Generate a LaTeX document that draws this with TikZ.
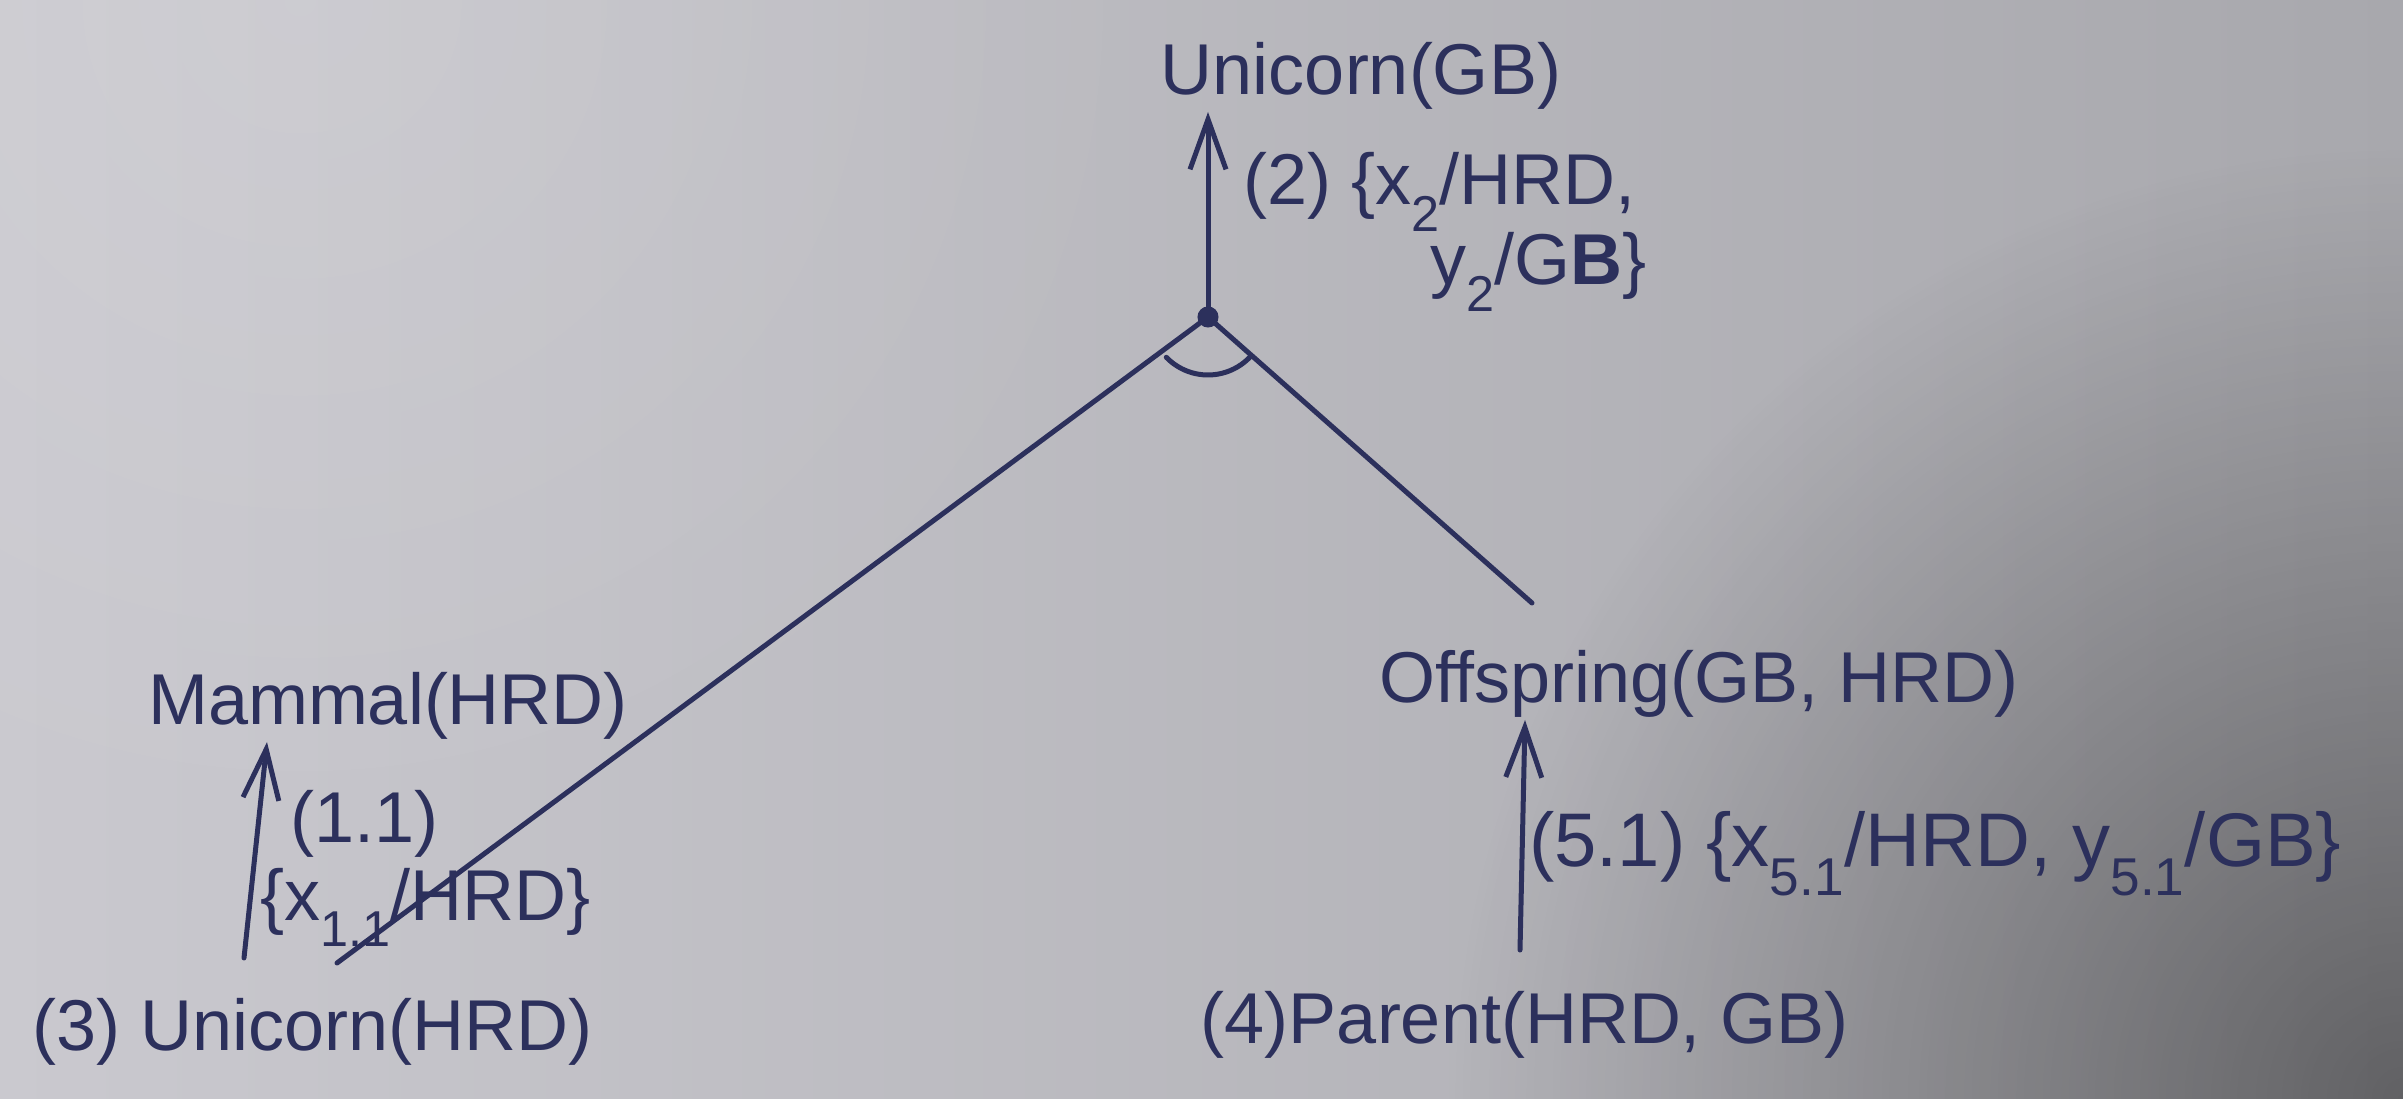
\documentclass[tikz,border=0pt]{standalone}
\usepackage{fontspec}
\setmainfont{Liberation Sans}
\usetikzlibrary{arrows.meta,fadings}
\definecolor{ink}{RGB}{44,48,92}
\definecolor{paperL}{RGB}{202,201,207}
\definecolor{paperR}{RGB}{168,168,173}
\tikzfading[name=cornerfade, inner color=transparent!0, outer color=transparent!100]
\tikzset{
  lbl/.style={text=ink, inner sep=0pt, font=\fontsize{72}{80}\selectfont},
  inkline/.style={draw=ink, line width=5pt, line cap=round},
  arr/.style={inkline, -{Straight Barb[length=50pt,width=36pt,line width=5pt]}},
  joint/.style={circle, draw=ink, fill=ink, line width=3pt, minimum size=18pt, inner sep=0pt}
}
\begin{document}
\begin{tikzpicture}[x=1pt,y=1pt]
\useasboundingbox (0,0) rectangle (2403,1098);
\begin{scope}
\clip (0,0) rectangle (2403,1098);
\shade[left color=paperL, right color=paperR] (0,0) rectangle (2403,1098);
\fill[black, opacity=0.42, path fading=cornerfade] (2403,0) circle (950);
\fill[white, opacity=0.12, path fading=cornerfade] (300,1098) circle (900);
\end{scope}

% connector end points
\coordinate (utip) at (1208,986);
\coordinate (mtail) at (244,140);
\coordinate (mtip) at (267,356);
\coordinate (otail) at (1520,148);
\coordinate (otip) at (1525,378);
\coordinate (lend) at (337,135);
\coordinate (rend) at (1532,495);
\coordinate (dotc) at (1208,781);

% connectors
\draw[arr] (dotc) -- (utip);
\draw[inkline] (dotc) -- (lend);
\draw[inkline] (dotc) -- (rend);
\draw[inkline] ([shift={(224:58)}]dotc) arc[start angle=224, end angle=318, radius=58];
\draw[arr] (mtail) -- (mtip);
\draw[arr] (otail) -- (otip);

% nodes
\node[joint] (dot) at (dotc) {};
\node[lbl, anchor=base] (uni) at (1361,1003) {Unicorn(GB)};
\node[lbl, anchor=base west] (lab2a) at (1243,893) {(2) \{x\textsubscript{2}/HRD,};
\node[lbl, anchor=base west] (lab2b) at (1430,813) {y\textsubscript{2}/G\textbf{B}\}};

\node[lbl, anchor=base] (mam) at (388,373) {Mammal(HRD)};
\node[lbl, anchor=base west] (lab11a) at (290,255) {(1.1)};
\node[lbl, anchor=base west] (lab11b) at (260,178) {\{x\textsubscript{1.1}/HRD\}};
\node[lbl, anchor=base] (un3) at (313,48) {(3) Unicorn(HRD)};

\node[lbl, anchor=base] (off) at (1699,395) {Offspring(GB, HRD)};
\node[lbl, anchor=base west, font=\fontsize{76}{84}\selectfont] (lab51) at (1529,231) {(5.1) \{x\textsubscript{5.1}/HRD, y\textsubscript{5.1}/GB\}};
\node[lbl, anchor=base] (par) at (1525,55) {(4)Parent(HRD, GB)};
\end{tikzpicture}
\end{document}
